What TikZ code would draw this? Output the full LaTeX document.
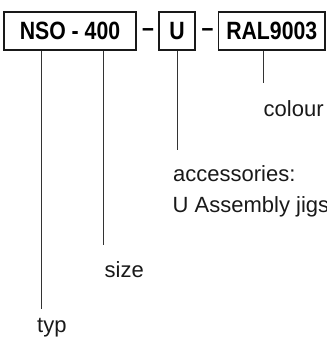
\documentclass[tikz,border=0pt]{standalone}
\usepackage{fontspec}
\setmainfont{Liberation Sans}
\newfontfamily\boxfont[FakeStretch=0.85]{Liberation Sans Bold}
\begin{document}
\begin{tikzpicture}[x=1pt,y=-1pt,
  codebox/.style={draw=black!90,line width=1.7pt,inner sep=0pt,minimum height=38pt,
    font=\boxfont\fontsize{25}{30}\selectfont},
  sep/.style={inner sep=0pt,anchor=base,font=\boxfont\fontsize{25}{30}\selectfont},
  lbl/.style={inner sep=0pt,anchor=base west,font=\fontsize{22}{26}\selectfont,text=black!90},
  lead/.style={draw=black!80,line width=0.8pt}]
\useasboundingbox (0,0) rectangle (326,344);
% code boxes
\node[codebox,minimum width=132pt] (nso) at (70,31) {NSO - 400};
\node[codebox,minimum width=35.5pt] (u) at (177,31) {U};
\node[codebox,minimum width=106.5pt] (ral) at (271.75,31) {RAL9003};
% separators
\node[sep] (d1) at (148,37) {–};
\node[sep] (d2) at (207.5,37) {–};
% labels
\node[lbl] (typ) at (37,332) {typ};
\node[lbl] (size) at (104.5,277) {size};
\node[lbl] (acc) at (173,182) {accessories:};
\node[lbl] (jig) at (172.5,212) {U Assembly jigs};
\node[lbl] (col) at (263.5,117) {colour};
% leader ends
\coordinate (typend) at (41,309);
\coordinate (sizeend) at (103.3,245);
\coordinate (uend) at (177,150);
\coordinate (colend) at (263.3,83);
\draw[lead] (nso.south -| typend) -- (typend);
\draw[lead] (nso.south -| sizeend) -- (sizeend);
\draw[lead] (u.south) -- (uend);
\draw[lead] (ral.south -| colend) -- (colend);
\end{tikzpicture}
\end{document}
